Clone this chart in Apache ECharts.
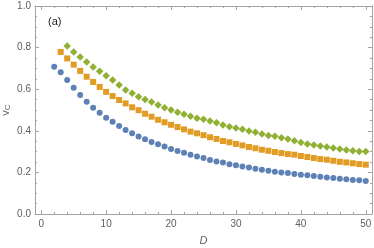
<!DOCTYPE html>
<html>
<head>
<meta charset="utf-8">
<script src="https://cdn.jsdelivr.net/npm/echarts@6/dist/echarts.min.js"></script>
<style>
html,body{margin:0;padding:0;background:#fff;}
#c{width:374px;height:248px;}
</style>
</head>
<body>
<div id="c"></div>
<script>
var dBlue = [2,3,4,5,6,7,8,9,10,11,12,13,14,15,16,17,18,19,20,21,22,23,24,25,26,27,28,29,30,31,32,33,34,35,36,37,38,39,40,41,42,43,44,45,46,47,48,49,50];
var vBlue = [0.708,0.681,0.644,0.607,0.572,0.540,0.511,0.487,0.463,0.444,0.423,0.404,0.388,0.372,0.359,0.346,0.335,0.324,0.313,0.303,0.295,0.285,0.277,0.269,0.260,0.252,0.247,0.239,0.234,0.228,0.223,0.218,0.213,0.208,0.203,0.200,0.197,0.192,0.189,0.186,0.183,0.179,0.176,0.173,0.170,0.167,0.163,0.162,0.159];
var dOrange = [3,4,5,6,7,8,9,10,11,12,13,14,15,16,17,18,19,20,21,22,23,24,25,26,27,28,29,30,31,32,33,34,35,36,37,38,39,40,41,42,43,44,45,46,47,48,49,50];
var vOrange = [0.779,0.748,0.718,0.688,0.660,0.635,0.611,0.587,0.567,0.548,0.532,0.513,0.499,0.482,0.468,0.453,0.441,0.429,0.418,0.407,0.396,0.388,0.379,0.369,0.361,0.351,0.345,0.337,0.330,0.322,0.316,0.309,0.304,0.298,0.293,0.288,0.285,0.279,0.274,0.269,0.264,0.261,0.256,0.251,0.248,0.244,0.240,0.237];
var dGreen = [4,5,6,7,8,9,10,11,12,13,14,15,16,17,18,19,20,21,22,23,24,25,26,27,28,29,30,31,32,33,34,35,36,37,38,39,40,41,42,43,44,45,46,47,48,49,50];
var vGreen = [0.808,0.779,0.755,0.731,0.707,0.686,0.665,0.644,0.620,0.596,0.580,0.564,0.551,0.538,0.524,0.511,0.500,0.489,0.479,0.470,0.460,0.455,0.447,0.439,0.428,0.420,0.413,0.407,0.399,0.393,0.385,0.378,0.374,0.367,0.360,0.352,0.344,0.337,0.332,0.327,0.322,0.317,0.312,0.308,0.304,0.301,0.300];
var xMajor = [0,10,20,30,40,50];
var xMinor = [2,4,6,8,12,14,16,18,22,24,26,28,32,34,36,38,42,44,46,48];

function pairs(xs, ys){ return xs.map(function(x,i){ return [x, ys[i]]; }); }

var frameColor = '#a3a3a3';
var labelColor = '#606060';
var font = 'Liberation Sans, Arial, sans-serif';

function xAx(pos, ticks, len, showLine, labels){
  return {
    type:'value', position:pos, min:-0.96, max:50.96, gridIndex:0,
    axisLine:{show:showLine, onZero:false, lineStyle:{color:frameColor, width:1}},
    axisTick:{show:true, inside:true, length:len, customValues:ticks, lineStyle:{color:frameColor, width:1}},
    axisLabel:labels ? {show:true, customValues:ticks, color:labelColor, fontSize:10, fontFamily:font, margin:5} : {show:false},
    splitLine:{show:false}
  };
}

var xa0 = xAx('bottom', xMajor, 4, true, true);
xa0.name = 'D';
xa0.nameLocation = 'middle';
xa0.nameGap = 21;
xa0.nameMoveOverlap = false;
xa0.nameTextStyle = {color:labelColor, fontSize:11, fontStyle:'italic', fontFamily:font};

function yAx(pos, labels){
  var a = {
    type:'value', position:pos, min:0, max:1, interval:0.2, gridIndex:0,
    axisLine:{show:true, onZero:false, lineStyle:{color:frameColor, width:1}},
    axisTick:{show:true, inside:true, length:4, lineStyle:{color:frameColor, width:1}},
    minorTick:{show:true, splitNumber:4, length:2, lineStyle:{color:frameColor, width:1}},
    axisLabel:labels ? {show:true, color:labelColor, fontSize:10, fontFamily:font, margin:4, formatter:function(v){return v.toFixed(1);}} : {show:false},
    splitLine:{show:false}, minorSplitLine:{show:false}
  };
  return a;
}
var ya0 = yAx('left', true);
ya0.name = '{v|v}{c|C}';
ya0.nameLocation = 'middle';
ya0.nameGap = 23;
ya0.nameMoveOverlap = false;
ya0.nameTextStyle = {rich:{v:{fontSize:11, color:labelColor, fontFamily:font}, c:{fontSize:8, color:labelColor, fontFamily:font, padding:[5,0,0,0]}}};

var chart = echarts.init(document.getElementById('c'), null, {renderer:'canvas'});
chart.setOption({
  animation:false,
  backgroundColor:'#fff',
  grid:{left:35, right:2, top:6, bottom:34, containLabel:false, outerBoundsMode:'none'},
  xAxis:[xa0, xAx('bottom', xMinor, 2, false, false), xAx('top', xMajor, 4, true, false), xAx('top', xMinor, 2, false, false)],
  yAxis:[ya0, yAx('right', false)],
  graphic:[{type:'text', left:48, top:16, style:{text:'(a)', fontSize:11, fill:'#222', fontFamily:font}}],
  series:[
    {type:'scatter', xAxisIndex:0, yAxisIndex:0, symbol:'circle', symbolSize:6, itemStyle:{color:'#5E81B5', opacity:1}, data:pairs(dBlue, vBlue)},
    {type:'scatter', xAxisIndex:0, yAxisIndex:0, symbol:'rect', symbolSize:6, itemStyle:{color:'#E19C24', opacity:1}, data:pairs(dOrange, vOrange)},
    {type:'scatter', xAxisIndex:0, yAxisIndex:0, symbol:'diamond', symbolSize:7.5, itemStyle:{color:'#8FB032', opacity:1}, data:pairs(dGreen, vGreen)}
  ]
});
</script>
</body>
</html>
